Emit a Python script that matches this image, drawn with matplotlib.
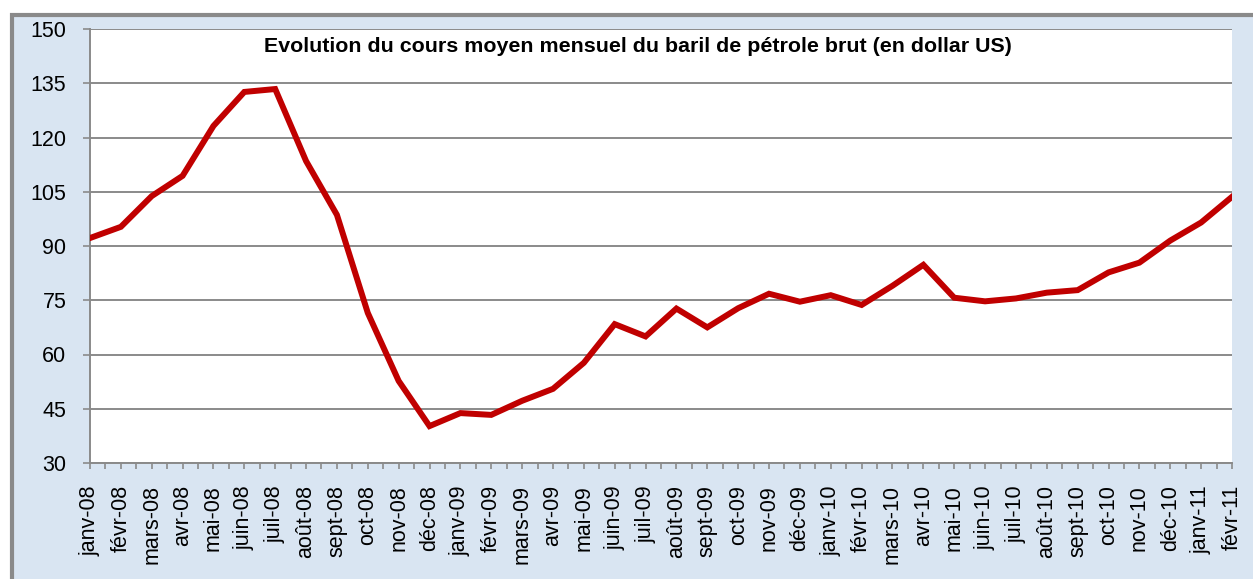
import numpy as np
import matplotlib
matplotlib.use("Agg")
import matplotlib.pyplot as plt
from matplotlib.patches import Rectangle
from matplotlib.ticker import MultipleLocator

plt.rcParams['font.family'] = ['Liberation Sans', 'DejaVu Sans']

# monthly labels and average price per barrel (USD)
months = ["janv-08", "févr-08", "mars-08", "avr-08", "mai-08", "juin-08", "juil-08",
          "août-08", "sept-08", "oct-08", "nov-08", "déc-08",
          "janv-09", "févr-09", "mars-09", "avr-09", "mai-09", "juin-09", "juil-09",
          "août-09", "sept-09", "oct-09", "nov-09", "déc-09",
          "janv-10", "févr-10", "mars-10", "avr-10", "mai-10", "juin-10", "juil-10",
          "août-10", "sept-10", "oct-10", "nov-10", "déc-10",
          "janv-11", "févr-11"]
price = [92.2, 95.3, 103.8, 109.4, 123.2, 132.6, 133.4,
         113.5, 98.6, 71.5, 52.7, 40.2,
         43.8, 43.3, 47.2, 50.5, 57.7, 68.4, 65.0,
         72.7, 67.5, 72.8, 76.8, 74.6,
         76.4, 73.7, 79.0, 84.8, 75.7, 74.7, 75.5,
         77.1, 77.8, 82.7, 85.4, 91.5,
         96.5, 103.6]
yticks = [30, 45, 60, 75, 90, 105, 120, 135, 150]
title = "Evolution du cours moyen mensuel du baril de pétrole brut (en dollar US)"

W, H = 1253, 579
fig = plt.figure(figsize=(W / 100, H / 100), dpi=100)
fig.patch.set_facecolor("white")

# chart area background with grey frame (cropped on right/bottom)
bg = Rectangle((11.5 / W, -0.1), 1.2, 1 - 14.5 / H + 0.1, transform=fig.transFigure,
               facecolor="#d9e5f2", edgecolor="#8a8a8a", linewidth=3, zorder=-5)
fig.patches.append(bg)

ax = fig.add_axes([90 / W, 116 / H, (1232 - 90) / W, (463 - 29) / H])
ax.set_facecolor("white")
ax.set_zorder(2)

x = np.arange(len(months))
ax.plot(x, price, color="#c00000", linewidth=4.3, solid_joinstyle="miter", zorder=3)

ax.set_xlim(0, len(months) - 1)
ax.set_ylim(30, 150)
ax.set_yticks(yticks)
ax.set_xticks(x)
ax.set_xticklabels(months, rotation=90)
ax.xaxis.set_minor_locator(MultipleLocator(0.5))

ax.grid(axis="y", color="#8a8a8a", linewidth=1.4)
ax.set_axisbelow(True)

for side in ["top", "right"]:
    ax.spines[side].set_visible(False)
for side in ["left", "bottom"]:
    ax.spines[side].set_color("#8a8a8a")
    ax.spines[side].set_linewidth(1.4)

ax.tick_params(axis="y", direction="out", length=5, width=1.2, color="#8a8a8a",
               labelsize=15.5, pad=12)
ax.tick_params(axis="x", which="both", direction="out", length=4, width=1.2,
               color="#8a8a8a", labelsize=15.5, pad=12)

fig.text(638 / W, 1 - 46 / H, title, ha="center", va="center",
         fontsize=15.4, fontweight="bold", zorder=5)

fig.savefig("out.png", dpi=100)
